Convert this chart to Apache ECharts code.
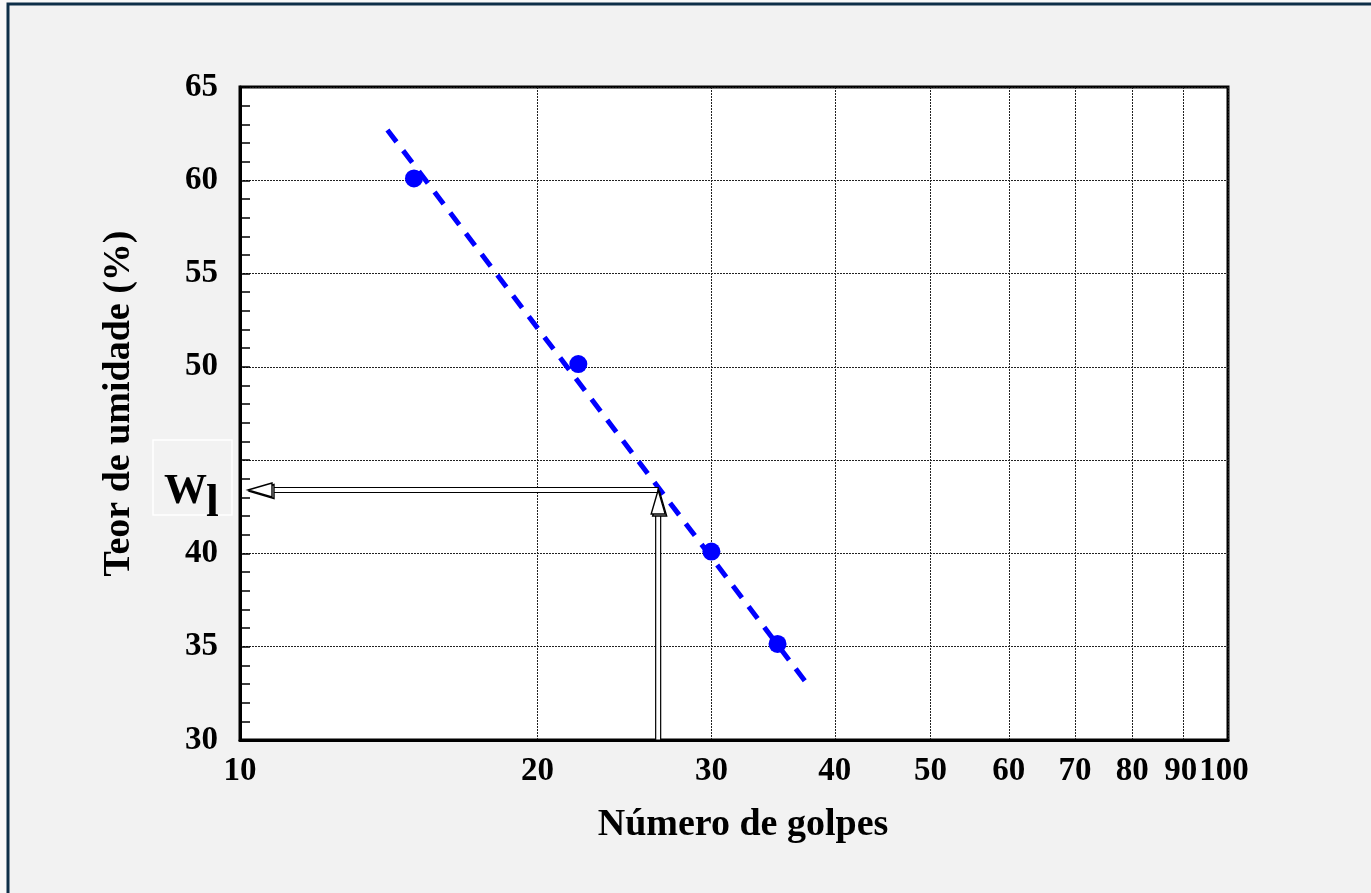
<!DOCTYPE html>
<html>
<head>
<meta charset="utf-8">
<script src="https://cdn.jsdelivr.net/npm/echarts@6/dist/echarts.min.js"></script>
<style>
html,body{margin:0;padding:0;background:#f9f9f9;}
#chart{width:1371px;height:893px;}
</style>
</head>
<body>
<div id="chart"></div>
<script>
// Data
const golpes = [15, 22, 30, 35];
const umidade = [60.1, 50.15, 40.1, 35.15];
const trendX = [14.1, 37.7];
const trendY = [62.7, 32.85];
const xTicks = [10, 20, 30, 40, 50, 60, 70, 80, 90, 100];
const yTicks = [30, 35, 40, 45, 50, 55, 60, 65];
const wlGolpes = [26.5];
const wlValue = [43.4];
const xTitle = 'Número de golpes';
const yTitle = 'Teor de umidade (%)';

const FONT = '"Liberation Serif", "Times New Roman", serif';
const labelFont = {fontFamily: FONT, fontWeight: 'bold', fontSize: 33, color: '#000'};

const chart = echarts.init(document.getElementById('chart'), null, {renderer: 'canvas'});

const option = {
  backgroundColor: '#f9f9f9',
  animation: false,
  graphic: [{
    type: 'rect', z: -100, silent: true,
    shape: {x: 8, y: 4, width: 1400, height: 920},
    style: {fill: '#f2f2f2', stroke: '#0e2f48', lineWidth: 3}
  }],
  grid: {
    left: 240, right: 143, top: 87, bottom: 153,
    show: true, backgroundColor: '#ffffff', borderColor: '#000', borderWidth: 3
  },
  xAxis: {
    type: 'log', logBase: 10, min: xTicks[0], max: xTicks[xTicks.length - 1],
    name: xTitle, nameLocation: 'middle', nameGap: 66,
    nameTextStyle: {fontFamily: FONT, fontWeight: 'bold', fontSize: 38, color: '#000', padding: [0, 0, 0, 18]},
    axisLine: {show: true, lineStyle: {color: '#000', width: 3}},
    axisTick: {show: false, customValues: xTicks},
    minorTick: {show: false},
    axisLabel: Object.assign({
      customValues: xTicks, margin: 15,
      formatter: function (v) {
        if (v === 90) return '{a|90}';
        if (v === 100) return '{b|100}';
        return String(v);
      },
      rich: {
        a: Object.assign({padding: [0, 4, 0, 0]}, labelFont),
        b: Object.assign({padding: [0, 8, 0, 0]}, labelFont)
      }
    }, labelFont),
    splitLine: {show: true, lineStyle: {color: '#222', width: 1, type: [2, 1]}}
  },
  yAxis: {
    type: 'value', min: yTicks[0], max: yTicks[yTicks.length - 1], interval: 5,
    name: yTitle, nameLocation: 'middle', nameGap: 102,
    nameTextStyle: {fontFamily: FONT, fontWeight: 'bold', fontSize: 38, color: '#000', padding: [0, 0, 0, 20]},
    axisLine: {show: true, lineStyle: {color: '#000', width: 3}},
    axisTick: {show: true, inside: true, length: 10, lineStyle: {color: '#000', width: 1.5}},
    minorTick: {show: true, splitNumber: 5, length: 10, lineStyle: {color: '#000', width: 1.5}},
    axisLabel: Object.assign({margin: 22}, labelFont),
    splitLine: {show: true, lineStyle: {color: '#222', width: 1, type: [2, 1]}}
  },
  series: [
    {
      type: 'line', z: 3,
      data: trendX.map((x, i) => [x, trendY[i]]),
      showSymbol: false, symbol: 'none',
      lineStyle: {color: '#0000ff', width: 5, type: [15, 11]}
    },
    {
      type: 'scatter', z: 4,
      data: golpes.map((x, i) => [x, umidade[i]]),
      symbol: 'circle', symbolSize: 18,
      itemStyle: {color: '#0000ff', opacity: 1}
    },
    {
      type: 'custom', z: 5,
      data: wlGolpes.map((x, i) => [x, wlValue[i]]),
      renderItem: function (params, api) {
        const x = api.value(0), y = api.value(1);
        const p0 = api.coord([x, y]);
        const pL = api.coord([xTicks[0], y]);
        const pB = api.coord([x, yTicks[0]]);
        const headLen = 24, headHalf = 7, gap = 2.5;
        const children = [];
        const hx0 = pL[0] + 8 + headLen;
        children.push({type: 'rect', shape: {x: hx0, y: p0[1] - gap, width: p0[0] - hx0, height: gap * 2},
          style: {fill: '#fff', stroke: '#000', lineWidth: 1.2}});
        const vy1 = p0[1] + headLen;
        children.push({type: 'rect', shape: {x: p0[0] - gap, y: vy1, width: gap * 2, height: pB[1] - vy1},
          style: {fill: '#fff', stroke: '#000', lineWidth: 1.2}});
        const tipL = pL[0] + 8;
        [[2, 1.5], [0, 0]].forEach(function (o) {
          children.push({type: 'polygon', shape: {points: [
            [tipL + o[0], p0[1] + o[1]], [tipL + headLen + o[0], p0[1] - headHalf + o[1]], [tipL + headLen + o[0], p0[1] + headHalf + o[1]]
          ]}, style: {fill: '#fff', stroke: '#000', lineWidth: 1.4}});
        });
        const tipU = p0[1];
        [[1.5, 2], [0, 0]].forEach(function (o) {
          children.push({type: 'polygon', shape: {points: [
            [p0[0] + o[0], tipU + o[1]], [p0[0] - headHalf + o[0], tipU + headLen + o[1]], [p0[0] + headHalf + o[0], tipU + headLen + o[1]]
          ]}, style: {fill: '#fff', stroke: '#000', lineWidth: 1.4}});
        });
        children.push({type: 'rect', shape: {x: pL[0] - 87, y: p0[1] - 50, width: 79, height: 75},
          style: {fill: '#f2f2f2', stroke: '#ffffff', lineWidth: 1.5}});
        children.push({type: 'text', x: pL[0] - 76, y: p0[1] + 1.5,
          style: {text: 'W', verticalAlign: 'middle', align: 'left',
            fontFamily: FONT, fontWeight: 'bold', fontSize: 43, fill: '#000'}});
        children.push({type: 'text', x: pL[0] - 34, y: p0[1] + 14,
          style: {text: 'l', verticalAlign: 'middle', align: 'left',
            fontFamily: FONT, fontWeight: 'bold', fontSize: 46, fill: '#000'}});
        return {type: 'group', children: children};
      }
    }
  ]
};
chart.setOption(option);
</script>
</body>
</html>
